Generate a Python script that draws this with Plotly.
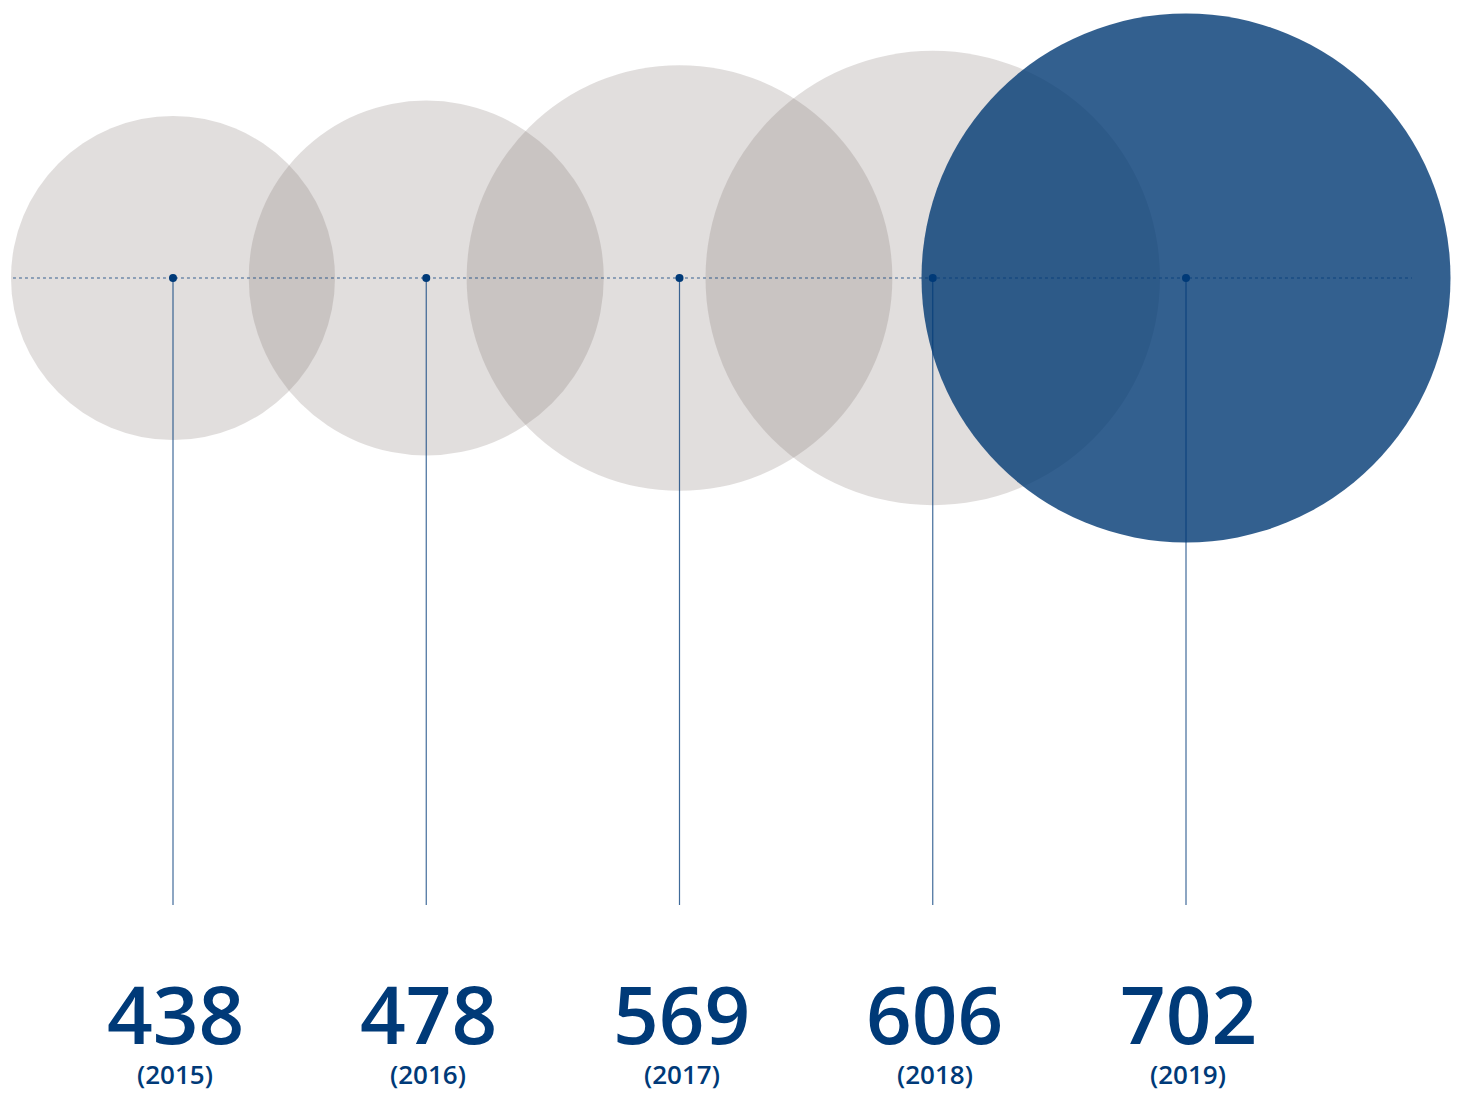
import plotly.graph_objects as go

years = ["2015", "2016", "2017", "2018", "2019"]
values = [438, 478, 569, 606, 702]
colors = ["rgba(119,105,100,0.22)"] * 4 + ["rgba(0,56,115,0.8)"]

BLUE = "#003a78"
xs = list(range(len(years)))
CY = -278  # vertical axis is in "pixel" units (negative down)

# linear size scale: value domain -> circle diameter (px)
vmin, vmax = min(values), max(values)
dmin, dmax = 324, 529
sizes = [dmin + (v - vmin) * (dmax - dmin) / (vmax - vmin) for v in values]

fig = go.Figure()

# bubbles
for i in range(len(years)):
    fig.add_trace(go.Scatter(
        x=[xs[i]], y=[CY], mode="markers",
        marker=dict(size=sizes[i], sizemode="diameter", color=colors[i], line=dict(width=0)),
        hoverinfo="skip", showlegend=False))

# dotted baseline
fig.add_trace(go.Scatter(x=[-0.632, 4.892], y=[CY, CY], mode="lines",
                         line=dict(color="rgba(0,58,120,0.75)", width=1.2, dash="dot"),
                         hoverinfo="skip", showlegend=False))

# vertical stems
for i in range(len(years)):
    fig.add_trace(go.Scatter(x=[xs[i], xs[i]], y=[CY, -905], mode="lines",
                             line=dict(color="rgba(0,58,120,0.75)", width=1.2),
                             hoverinfo="skip", showlegend=False))

# centre dots
fig.add_trace(go.Scatter(x=xs, y=[CY] * len(xs), mode="markers",
                         marker=dict(size=8, color=BLUE),
                         hoverinfo="skip", showlegend=False))

for i in range(len(years)):
    fig.add_annotation(x=xs[i], y=-1012, text=str(values[i]), showarrow=False,
                       xanchor="center", yanchor="middle", xshift=2,
                       font=dict(family="Open Sans", size=80, color=BLUE, weight=600))
    fig.add_annotation(x=xs[i], y=-1094, text=f"({years[i]})", showarrow=False,
                       xanchor="center", yanchor="bottom", xshift=2,
                       font=dict(family="Open Sans", size=26, color=BLUE, weight=600))

ppu = (1186 - 173) / 4
fig.update_layout(
    width=1463, height=1094,
    margin=dict(l=0, r=0, t=0, b=0),
    paper_bgcolor="white", plot_bgcolor="white",
    xaxis=dict(range=[-173 / ppu, 4 + (1463 - 1186) / ppu], visible=False, fixedrange=True),
    yaxis=dict(range=[-1094, 0], visible=False, fixedrange=True),
)

fig.write_html("out.html")
